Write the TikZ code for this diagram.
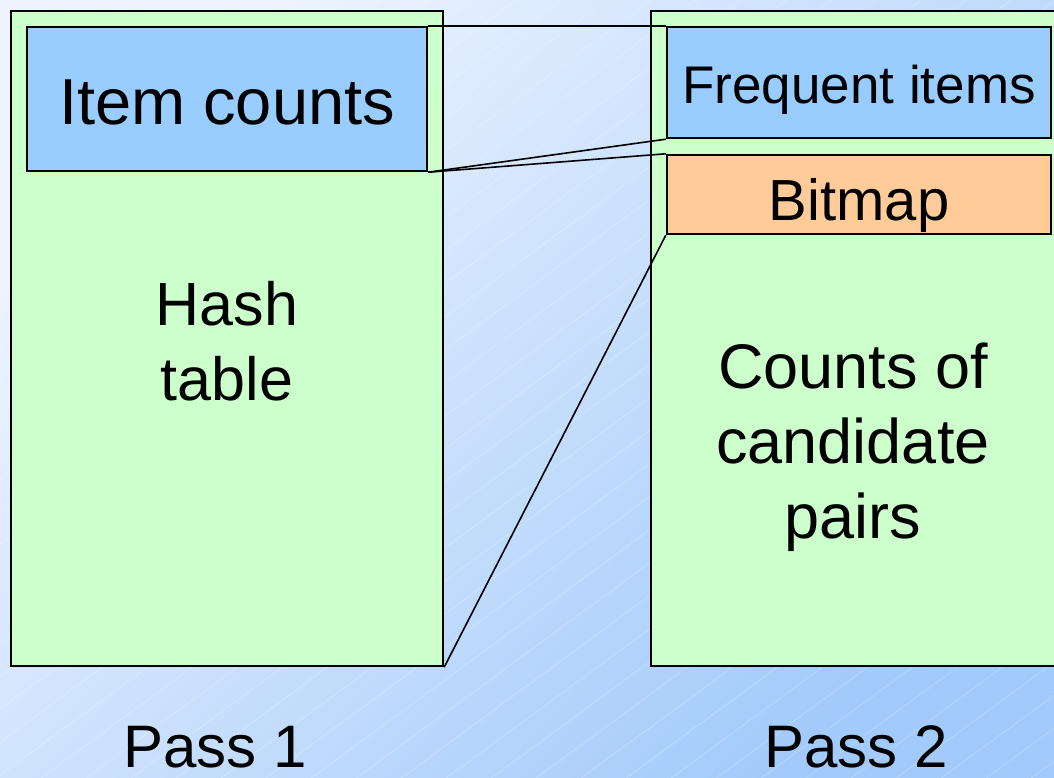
\documentclass[tikz,border=0pt]{standalone}
\usepackage{fontspec}
\setmainfont{Liberation Sans}
\usetikzlibrary{positioning,calc}

\definecolor{memgreen}{HTML}{CCFFCC}
\definecolor{memblue}{HTML}{99CCFF}
\definecolor{memorange}{HTML}{FFCC99}
\definecolor{bglight}{HTML}{EEF4FF}
\definecolor{bgdark}{HTML}{A2CAFA}

\tikzset{
	membox/.style={draw, line width=2.4pt, rectangle, inner sep=0pt, text depth=0pt},
	memlabel/.style={align=center, inner sep=0pt, anchor=base},
	passlabel/.style={inner sep=0pt, anchor=base, text depth=0pt, font=\fontsize{60}{75}\selectfont},
	link/.style={line width=1.6pt},
}

\begin{document}
\begin{tikzpicture}[x=1pt, y=-1pt]
	% page and background
	\useasboundingbox (0, 0) rectangle (1054, 777);
	\clip (0, 0) rectangle (1054, 777);
	\shade[top color=bglight, bottom color=bgdark, shading angle=45] (0, 0) rectangle (1054, 777);
	\foreach \i in {-1100, -1055, ..., 1054}
		\draw [white, opacity=0.3, line width=0.5pt] (\i, 790) -- (\i+1090, -10);

	% main memory in the two passes
	\node [membox, fill=memgreen, minimum width=432, minimum height=655] (pass1) at (227, 338.5) {};
	\node [membox, fill=memgreen, minimum width=430, minimum height=655] (pass2) at (866, 338.5) {};

	\node [membox, fill=memblue, minimum width=400, minimum height=144, text height=50,
		font=\fontsize{65}{75}\selectfont] (cnt) at (227, 99) {Item counts};
	\node [membox, fill=memblue, minimum width=384, minimum height=111, text height=41,
		font=\fontsize{53}{64}\selectfont] (freq) at (859, 82.5) {Frequent items};
	\node [membox, fill=memorange, minimum width=384, minimum height=79, text height=51,
		font=\fontsize{58}{70}\selectfont] (bmp) at (859, 194.5) {Bitmap};

	% base is the last line of each label
	\node [memlabel, font=\fontsize{61}{75}\selectfont] (hash) at (227, 400) {Hash\\table};
	\node [memlabel, font=\fontsize{63}{75}\selectfont] (cand) at (853, 538) {Counts of\\candidate\\pairs};

	\node [passlabel] (p1) at (215, 767) {Pass 1};
	\node [passlabel] (p2) at (856, 767) {Pass 2};

	% what carries over from pass 1
	\draw [link] (cnt.north east) to (freq.north west);
	\draw [link] (cnt.south east) to (freq.south west);
	\draw [link] (cnt.south east) to (bmp.north west);
	\draw [link] (pass1.south east) to (bmp.south west);
\end{tikzpicture}
\end{document}
